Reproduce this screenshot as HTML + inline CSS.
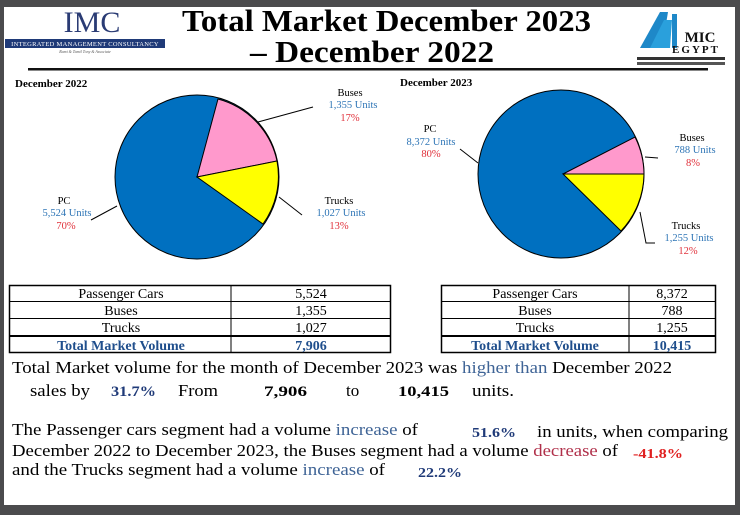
<!DOCTYPE html>
<html><head><meta charset="utf-8"><style>
html,body{margin:0;padding:0;background:#4b4b4d;}
svg{display:block}
text{font-family:"Liberation Serif",serif}
</style></head><body>
<svg width="740" height="515" viewBox="0 0 740 515" xmlns="http://www.w3.org/2000/svg">
<rect x="0" y="0" width="740" height="515" fill="#4b4b4d"/>
<rect x="4" y="7" width="731" height="498" fill="#ffffff"/>
<!-- IMC logo -->
<text x="92" y="32" font-size="30" fill="#2a3b74" text-anchor="middle">IMC</text>
<rect x="5" y="39" width="160" height="9" fill="#1f3a78"/>
<text x="85" y="46" font-size="6.5" fill="#fff" text-anchor="middle" letter-spacing="0.3">INTEGRATED MANAGEMENT CONSULTANCY</text>
<text x="85" y="53" font-size="4" fill="#555" text-anchor="middle" font-style="italic">Rami &amp; Tamil Tony &amp; Associate</text>
<!-- title -->
<text x="182" y="31" font-size="31" font-weight="bold" fill="#000" textLength="409" lengthAdjust="spacingAndGlyphs">Total Market December 2023</text>
<text x="250" y="62" font-size="31" font-weight="bold" fill="#000" textLength="244" lengthAdjust="spacingAndGlyphs">– December 2022</text>
<rect x="28" y="68" width="680" height="2.5" fill="#111"/>
<!-- AMIC logo -->
<polygon points="640,48 660,12 668,12 662,48" fill="#1e88c8"/>
<polygon points="650,48 664,20 672,20 670,48" fill="#2aa0dc"/>
<rect x="672" y="14" width="5" height="34" fill="#1e88c8"/>
<text x="700" y="42" font-size="15" font-weight="bold" fill="#111" font-family="Liberation Sans,sans-serif" text-anchor="middle">MIC</text>
<text x="696" y="53" font-size="11" font-weight="bold" fill="#111" font-family="Liberation Sans,sans-serif" text-anchor="middle" letter-spacing="2">EGYPT</text>
<rect x="637" y="57" width="88" height="3" fill="#333"/>
<rect x="637" y="62" width="88" height="3" fill="#555"/>
<!-- pie 1 -->
<text x="15" y="87" font-size="11" font-weight="bold" fill="#000">December 2022</text>
<ellipse cx="197" cy="177" rx="82" ry="82" fill="#0070c0" stroke="#000" stroke-width="1"/>
<path d="M197,177 L218,99 A82,82 0 0,1 277,161 Z" fill="#ff99cc" stroke="#000" stroke-width="1"/>
<path d="M197,177 L277,161 A82,82 0 0,1 263,224 Z" fill="#ffff00" stroke="#000" stroke-width="1"/>
<polyline points="313,107 258,122" fill="none" stroke="#000"/>
<polyline points="302,215 279,197" fill="none" stroke="#000"/>
<polyline points="91,220 117,206" fill="none" stroke="#000"/>
<g font-size="10.5" text-anchor="middle">
<text x="350" y="96">Buses</text><text x="353" y="108" fill="#2e75b6">1,355  Units</text><text x="350" y="121" fill="#e0303a">17%</text>
<text x="339" y="204">Trucks</text><text x="341" y="216" fill="#2e75b6">1,027 Units</text><text x="339" y="229" fill="#e0303a">13%</text>
<text x="64" y="204">PC</text><text x="67" y="216" fill="#2e75b6">5,524 Units</text><text x="66" y="229" fill="#e0303a">70%</text>
</g>
<!-- pie 2 -->
<text x="400" y="86" font-size="11" font-weight="bold" fill="#000">December 2023</text>
<ellipse cx="561" cy="174" rx="83" ry="84" fill="#0070c0" stroke="#000" stroke-width="1"/>
<path d="M563,174 L635,137 A83,84 0 0,1 644,174 Z" fill="#ff99cc" stroke="#000" stroke-width="1"/>
<path d="M563,174 L644,174 A83,84 0 0,1 621,231 Z" fill="#ffff00" stroke="#000" stroke-width="1"/>
<polyline points="460,149 478,163" fill="none" stroke="#000"/>
<polyline points="645,157 658,158" fill="none" stroke="#000"/>
<polyline points="640,212 646,243 655,243" fill="none" stroke="#000"/>
<g font-size="10.5" text-anchor="middle">
<text x="430" y="132">PC</text><text x="431" y="145" fill="#2e75b6">8,372 Units</text><text x="431" y="157" fill="#e0303a">80%</text>
<text x="692" y="141">Buses</text><text x="695" y="153" fill="#2e75b6">788 Units</text><text x="693" y="166" fill="#e0303a">8%</text>
<text x="686" y="229">Trucks</text><text x="689" y="241" fill="#2e75b6">1,255 Units</text><text x="688" y="254" fill="#e0303a">12%</text>
</g>
<!-- tables -->
<g stroke="#000" fill="none">
<rect x="9.5" y="285.5" width="381" height="67" stroke-width="1.5"/>
<line x1="231" y1="285" x2="231" y2="353"/>
<line x1="9" y1="301.5" x2="391" y2="301.5"/>
<line x1="9" y1="318.5" x2="391" y2="318.5"/>
<line x1="9" y1="336" x2="391" y2="336" stroke-width="2"/>
<rect x="441.5" y="285.5" width="274" height="67" stroke-width="1.5"/>
<line x1="629" y1="285" x2="629" y2="353"/>
<line x1="441" y1="301.5" x2="716" y2="301.5"/>
<line x1="441" y1="318.5" x2="716" y2="318.5"/>
<line x1="441" y1="336" x2="716" y2="336" stroke-width="2"/>
</g>
<g font-size="14" text-anchor="middle">
<text x="121" y="298">Passenger Cars</text><text x="311" y="298">5,524</text>
<text x="121" y="315">Buses</text><text x="311" y="315">1,355</text>
<text x="121" y="332">Trucks</text><text x="311" y="332">1,027</text>
<text x="121" y="350" font-weight="bold" fill="#1f4e8c">Total Market Volume</text><text x="311" y="350" font-weight="bold" fill="#1f4e8c">7,906</text>
<text x="535" y="298">Passenger Cars</text><text x="672" y="298">8,372</text>
<text x="535" y="315">Buses</text><text x="672" y="315">788</text>
<text x="535" y="332">Trucks</text><text x="672" y="332">1,255</text>
<text x="535" y="350" font-weight="bold" fill="#1f4e8c">Total Market Volume</text><text x="672" y="350" font-weight="bold" fill="#1f4e8c">10,415</text>
</g>
<!-- paragraphs -->
<g font-size="17" fill="#000">
<text x="12" y="373" textLength="660" lengthAdjust="spacingAndGlyphs">Total Market volume for the month of December 2023 was <tspan fill="#3f6496">higher than</tspan> December 2022</text>
<text x="30" y="396" textLength="60" lengthAdjust="spacingAndGlyphs">sales by</text>
<text x="111" y="396" font-weight="bold" fill="#1f3a78" font-size="15" textLength="45" lengthAdjust="spacingAndGlyphs">31.7%</text>
<text x="178" y="396" textLength="40" lengthAdjust="spacingAndGlyphs">From</text>
<text x="264" y="396" font-weight="bold" font-size="15" textLength="43" lengthAdjust="spacingAndGlyphs">7,906</text>
<text x="346" y="396">to</text>
<text x="398" y="396" font-weight="bold" font-size="15" textLength="51" lengthAdjust="spacingAndGlyphs">10,415</text>
<text x="472" y="396" textLength="42" lengthAdjust="spacingAndGlyphs">units.</text>
<text x="12" y="435" textLength="406" lengthAdjust="spacingAndGlyphs">The Passenger cars segment had a volume <tspan fill="#3f6496">increase</tspan> of</text>
<text x="472" y="437" font-weight="bold" fill="#1f3a78" font-size="14" textLength="44" lengthAdjust="spacingAndGlyphs">51.6%</text>
<text x="537" y="437" textLength="191" lengthAdjust="spacingAndGlyphs">in units, when comparing</text>
<text x="12" y="456" textLength="606" lengthAdjust="spacingAndGlyphs">December 2022 to December 2023, the Buses segment had a volume <tspan fill="#b0304a">decrease</tspan> of</text>
<text x="633" y="458" font-weight="bold" fill="#e02020" font-size="14" textLength="50" lengthAdjust="spacingAndGlyphs">-41.8%</text>
<text x="12" y="475" textLength="373" lengthAdjust="spacingAndGlyphs">and the Trucks segment had a volume <tspan fill="#3f6496">increase</tspan> of</text>
<text x="418" y="477" font-weight="bold" fill="#1f3a78" font-size="14" textLength="44" lengthAdjust="spacingAndGlyphs">22.2%</text>
</g>
</svg>
</body></html>
